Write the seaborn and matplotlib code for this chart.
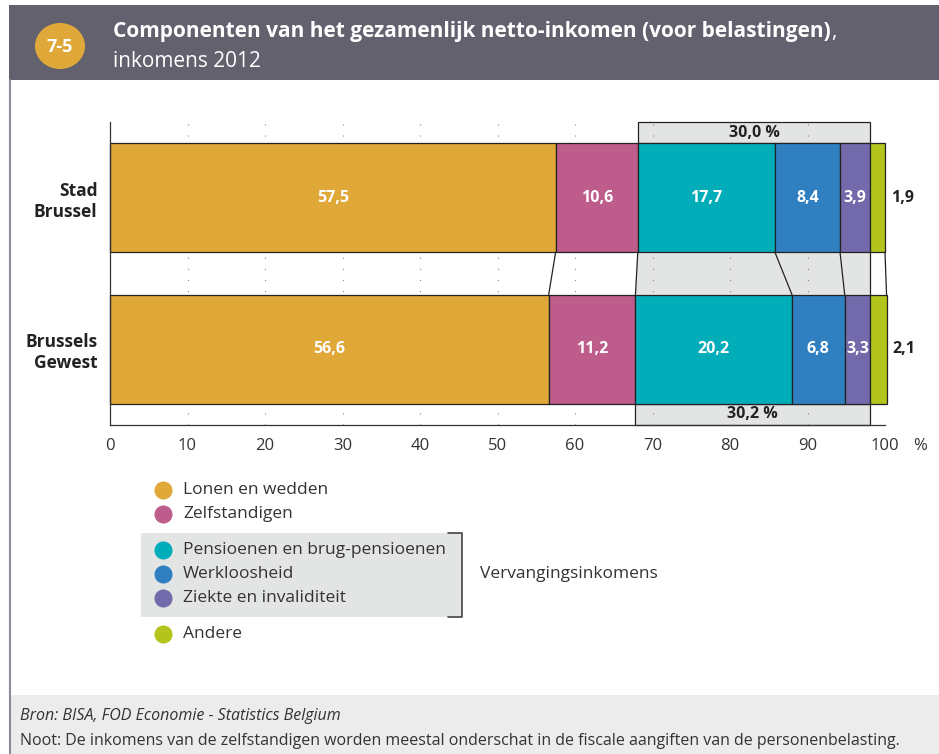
import matplotlib.pyplot as plt
import matplotlib.patches as mpatches
import numpy as np
import pandas as pd
import seaborn as sns

# Data
regions = ["Stad\nBrussel", "Brussels\nGewest"]
components = ["Lonen en wedden", "Zelfstandigen", "Pensioenen en brug-pensioenen",
              "Werkloosheid", "Ziekte en invaliditeit", "Andere"]
stad_brussel = [57.5, 10.6, 17.7, 8.4, 3.9, 1.9]
brussels_gewest = [56.6, 11.2, 20.2, 6.8, 3.3, 2.1]
replacement_totals = [30.0, 30.2]   # "Vervangingsinkomens", as printed
replacement_parts = components[2:5]
colors = ["#E0A838", "#BE5D8B", "#00ADB9", "#3080C1", "#726AAB", "#B3C41D"]
xticks = [0, 10, 20, 30, 40, 50, 60, 70, 80, 90, 100]

df = pd.DataFrame({
    "region": np.repeat(regions, len(components)),
    "component": components * 2,
    "value": stad_brussel + brussels_gewest,
})
df["right"] = df.groupby("region", sort=False)["value"].cumsum()
df["left"] = df["right"] - df["value"]

def fmt(v):
    return f"{v:.1f}".replace(".", ",")

sns.set_style("white")
plt.rcParams["font.family"] = ["Open Sans", "DejaVu Sans"]

W, H = 939, 754
fig = plt.figure(figsize=(W / 100, H / 100), dpi=100)

# background layer in pixel coords (header, legend, footer)
bg = fig.add_axes([0, 0, 1, 1], zorder=0)
bg.set_xlim(0, W)
bg.set_ylim(H, 0)
bg.axis("off")

# main chart
ax = fig.add_axes([110 / W, 1 - 425 / H, 775 / W, 303 / H], zorder=1)
ax.patch.set_alpha(0)

bar_h = 0.72
for comp, col in zip(components, colors):
    sub = df[df["component"] == comp]
    sns.barplot(data=sub, x="value", y="region", order=regions, left=sub["left"].values,
                color=col, saturation=1, width=bar_h, errorbar=None,
                edgecolor="#222222", linewidth=0.9, ax=ax)
    labels = [fmt(v) for v in sub["value"]]
    if comp == "Andere":
        texts = ax.bar_label(ax.containers[-1], labels=labels, label_type="edge", padding=4,
                             fontsize=11.5, fontweight="bold", color="#222222")
    else:
        texts = ax.bar_label(ax.containers[-1], labels=labels, label_type="center",
                             fontsize=11.5, fontweight="bold", color="white")
    for t in texts:
        t.set_annotation_clip(False)

ax.set_ylim(1.5, -0.5)
ax.set_xlim(0, 100)
ax.set_xlabel("")
ax.set_ylabel("")
ax.set_xticks(xticks)
ax.set_xticklabels([str(t) for t in xticks])
ax.tick_params(axis="x", length=0, pad=9, labelsize=12, labelcolor="#333333")
ax.tick_params(axis="y", length=0, pad=9)
for lab in ax.get_yticklabels():
    lab.set_fontweight("bold")
    lab.set_fontsize(12.5)
    lab.set_color("#222222")
for side in ["top", "right"]:
    ax.spines[side].set_visible(False)
for side in ["left", "bottom"]:
    ax.spines[side].set_color("#333333")
    ax.spines[side].set_linewidth(0.9)
for b in ax.patches:
    b.set_clip_on(False)

ax.xaxis.grid(True, color="#888888", linestyle=(0, (1, 9)), linewidth=0.8)
ax.set_axisbelow(True)
ax.text(1.045, -0.07, "%", transform=ax.transAxes, fontsize=12, color="#333333",
        ha="center", va="center")

# replacement income grouping
piv_l = df.pivot(index="region", columns="component", values="left").loc[regions]
piv_r = df.pivot(index="region", columns="component", values="right").loc[regions]
r0 = piv_l[replacement_parts[0]].values
r1 = piv_r[replacement_parts[-1]].values
top_edge, bot_edge = bar_h / 2, 1 - bar_h / 2

ax.add_patch(mpatches.Rectangle((r0[0], -0.5), r1[0] - r0[0], 0.5 - bar_h / 2,
                                facecolor="#E3E4E4", edgecolor="#222222", lw=0.9,
                                zorder=0.3, clip_on=False))
ax.add_patch(mpatches.Rectangle((r0[1], 1 + bar_h / 2), r1[1] - r0[1], 0.5 - bar_h / 2,
                                facecolor="#E3E4E4", edgecolor="#222222", lw=0.9,
                                zorder=0.3, clip_on=False))
ax.add_patch(mpatches.Polygon([(r0[0], top_edge), (r1[0], top_edge),
                               (r1[1], bot_edge), (r0[1], bot_edge)],
                              facecolor="#E3E4E4", edgecolor="none", zorder=0.3))
ax.text((r0[0] + r1[0]) / 2, -0.5 + (0.5 - bar_h / 2) / 2, fmt(replacement_totals[0]) + " %",
        ha="center", va="center", fontsize=11.5, fontweight="bold", color="#222222")
ax.text((r0[1] + r1[1]) / 2, 1.5 - (0.5 - bar_h / 2) / 2, fmt(replacement_totals[1]) + " %",
        ha="center", va="center", fontsize=11.5, fontweight="bold", color="#222222")

# connector lines between the two bars
for comp in components:
    ax.plot([piv_r.loc[regions[0], comp], piv_r.loc[regions[1], comp]], [top_edge, bot_edge],
            color="#222222", lw=0.9, zorder=2, clip_on=False)

# header
bg.add_patch(mpatches.Rectangle((9, 5), W - 9, 75, facecolor="#64616E", edgecolor="none"))
bg.plot([10, 10], [80, H], color="#8E8B96", lw=1.5)
bg.add_patch(mpatches.Ellipse((60, 46), 50, 46, facecolor="#E0A838", edgecolor="none"))
bg.text(60, 47, "7-5", color="white", fontsize=13, fontweight="bold", ha="center", va="center")
t1 = bg.text(113, 37, "Componenten van het gezamenlijk netto-inkomen (voor belastingen)",
             color="white", fontsize=15, fontweight="bold", ha="left", va="baseline")
bg.annotate(",", xy=(1, 37), xycoords=(t1, bg.transData), color="white", fontsize=15,
            ha="left", va="baseline")
bg.text(113, 67, "inkomens 2012", color="white", fontsize=15, ha="left", va="baseline")

# legend
leg_y = [490, 514, 550, 574, 598, 634]
bg.add_patch(mpatches.Rectangle((141, 533), 321, 84, facecolor="#E3E4E4", edgecolor="none"))
bg.plot([448, 462, 462, 448], [533, 533, 617, 617], color="#444444", lw=1.2)
for comp, col, yy in zip(components, colors, leg_y):
    bg.plot(163, yy, marker="o", markersize=12, color=col, linestyle="none")
    bg.text(183, yy, comp, fontsize=12.5, color="#333333", ha="left", va="center")
bg.text(480, 574, "Vervangingsinkomens", fontsize=12.5, color="#333333", ha="left", va="center")

# footer
bg.add_patch(mpatches.Rectangle((11, 695), W - 11, H - 695, facecolor="#ECECEC", edgecolor="none"))
bg.text(20, 716, "Bron: BISA, FOD Economie - Statistics Belgium", fontsize=11.5,
        fontstyle="italic", color="#333333", ha="left", va="center")
bg.text(20, 741, "Noot: De inkomens van de zelfstandigen worden meestal onderschat in de "
        "fiscale aangiften van de personenbelasting.", fontsize=11.5, color="#333333",
        ha="left", va="center")

fig.savefig("out.png", dpi=100)
